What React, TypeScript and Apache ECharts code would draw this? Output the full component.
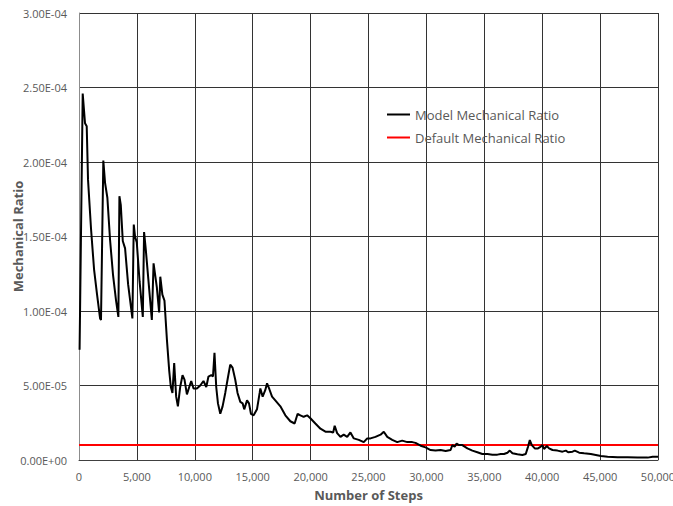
import React, { useEffect, useRef } from "react";
import * as echarts from "echarts";

// Number of steps (x) and model mechanical ratio (in units of 1e-5)
const steps = [
  50, 320, 520, 666, 780, 1040, 1300, 1560, 1820, 1900,
  2100, 2250, 2450, 2680, 2940, 3200, 3400, 3490, 3610, 3780,
  3980, 4240, 4610, 4730, 4840, 4990, 5230, 5510, 5620, 5770,
  5990, 6290, 6440, 6720, 6920, 7020, 7200, 7380, 7590, 7790,
  7930, 8070, 8220, 8390, 8540, 8740, 8940, 9110, 9320, 9520,
  9690, 9890, 10180, 10470, 10750, 10990, 11180, 11420, 11570, 11700,
  11850, 12000, 12200, 12400, 12630, 12830, 13060, 13260, 13490, 13690,
  13930, 14130, 14270, 14510, 14680, 14850, 15080, 15370, 15600, 15660,
  15860, 16090, 16240, 16440, 16670, 16950, 17390, 17820, 18250, 18620,
  18880, 19120, 19400, 19700, 19980, 20410, 20850, 21280, 21710, 21950,
  22080, 22290, 22580, 22860, 23160, 23440, 23730, 24160, 24590, 24890,
  25170, 25600, 26040, 26320, 26620, 27050, 27480, 27910, 28350, 28780,
  29060, 29500, 29930, 30360, 30790, 31230, 31660, 32090, 32240, 32440,
  32610, 32810, 33100, 33540, 33970, 34400, 34830, 35270, 35700, 36130,
  36420, 36700, 37000, 37200, 37430, 37860, 38290, 38580, 38780, 38930,
  39100, 39360, 39640, 39880, 40020, 40160, 40400, 40590, 40890, 41320,
  41750, 42040, 42240, 42620, 42820, 43190, 43620, 44200, 44630, 45070,
  45650, 46510, 47380, 48240, 49110, 49540, 50000,
];

const modelRatioE5 = [
  7.4, 24.6, 22.6, 22.4, 18.8, 15.5, 12.8, 11.1, 9.5, 9.4,
  20.1, 18.6, 17.6, 14.8, 12.4, 10.7, 9.6, 17.7, 17.1, 14.7,
  14.2, 11.8, 9.5, 15.8, 15.0, 14.6, 12.0, 9.6, 15.3, 14.1,
  12.1, 9.4, 13.2, 11.6, 9.9, 12.3, 11.1, 10.7, 8.1, 6.0,
  4.9, 4.5, 6.5, 4.25, 3.6, 4.9, 5.7, 5.4, 4.4, 4.9,
  5.3, 4.8, 4.8, 5.0, 5.3, 4.9, 5.6, 5.7, 5.6, 7.2,
  4.9, 3.8, 3.1, 3.6, 4.5, 5.4, 6.4, 6.2, 5.4, 4.5,
  3.9, 3.8, 3.4, 4.0, 3.8, 3.1, 3.0, 3.4, 4.5, 4.8,
  4.25, 4.7, 5.15, 4.75, 4.25, 4.0, 3.6, 3.0, 2.6, 2.45,
  3.1, 3.0, 2.9, 3.0, 2.8, 2.45, 2.1, 1.9, 1.9, 1.85,
  2.3, 1.8, 1.55, 1.7, 1.55, 1.85, 1.45, 1.35, 1.2, 1.45,
  1.45, 1.55, 1.7, 1.9, 1.55, 1.35, 1.2, 1.3, 1.2, 1.2,
  1.15, 0.96, 0.85, 0.67, 0.63, 0.67, 0.6, 0.67, 1.0, 0.9,
  1.1, 1.0, 1.0, 0.78, 0.63, 0.52, 0.4, 0.4, 0.36, 0.36,
  0.4, 0.4, 0.49, 0.63, 0.45, 0.38, 0.34, 0.4, 0.9, 1.34,
  1.0, 0.78, 0.78, 0.9, 1.0, 0.74, 0.94, 0.78, 0.67, 0.63,
  0.56, 0.63, 0.52, 0.56, 0.63, 0.49, 0.45, 0.4, 0.34, 0.27,
  0.22, 0.18, 0.18, 0.16, 0.16, 0.22, 0.22,
];

const defaultSteps = [0, 50000];
const defaultRatio = [1e-5, 1e-5];

const xTicks = { min: 0, max: 50000, interval: 5000 };
const yTicks = { min: 0, max: 3e-4, interval: 5e-5 };

const seriesNames = ["Model Mechanical Ratio", "Default Mechanical Ratio"];

function fmtExp(v: number): string {
  if (v === 0) return "0.00E+00";
  const [m, e] = v.toExponential(2).split("e");
  const n = parseInt(e, 10);
  return m + "E" + (n < 0 ? "-" : "+") + String(Math.abs(n)).padStart(2, "0");
}

export default function App() {
  const ref = useRef<HTMLDivElement>(null);
  useEffect(() => {
    if (!ref.current) return;
    const chart = echarts.init(ref.current, undefined, { renderer: "svg" });
    const font = "'Open Sans', sans-serif";
    const modelData = steps.map((s, i) => [s, modelRatioE5[i] * 1e-5]);
    const defaultData = defaultSteps.map((s, i) => [s, defaultRatio[i]]);
    chart.setOption({
      animation: false,
      backgroundColor: "#ffffff",
      grid: {
        left: 79,
        right: 15,
        top: 13,
        bottom: 46,
        containLabel: false,
        outerBoundsMode: "none",
      },
      legend: {
        orient: "vertical",
        left: 382,
        top: 103,
        icon: "rect",
        itemWidth: 23,
        itemHeight: 2,
        itemGap: 10,
        textStyle: { fontFamily: font, fontSize: 13, color: "#595959" },
        data: seriesNames,
      },
      xAxis: {
        type: "value",
        min: xTicks.min,
        max: xTicks.max,
        interval: xTicks.interval,
        name: "Number of Steps",
        nameLocation: "middle",
        nameGap: 28,
        nameTextStyle: { fontFamily: font, fontSize: 13, fontWeight: "bold", color: "#595959" },
        axisLine: { show: true, lineStyle: { color: "#404040", width: 1 } },
        axisTick: { show: false },
        axisLabel: {
          fontFamily: font,
          fontSize: 11,
          color: "#595959",
          margin: 11,
          formatter: (v: number) => v.toLocaleString("en-US"),
        },
        splitLine: { show: true, lineStyle: { color: "#333333", width: 1 } },
      },
      yAxis: {
        type: "value",
        min: yTicks.min,
        max: yTicks.max,
        interval: yTicks.interval,
        name: "Mechanical Ratio",
        nameLocation: "middle",
        nameGap: 55,
        nameMoveOverlap: false,
        nameRotate: 90,
        nameTextStyle: { fontFamily: font, fontSize: 13, fontWeight: "bold", color: "#595959" },
        axisLine: { show: true, lineStyle: { color: "#8c8c8c", width: 1 } },
        axisTick: { show: false },
        axisLabel: {
          fontFamily: font,
          fontSize: 11,
          color: "#595959",
          margin: 12,
          formatter: (v: number) => fmtExp(v),
        },
        splitLine: { show: true, lineStyle: { color: "#333333", width: 1 } },
      },
      series: [
        {
          name: seriesNames[0],
          type: "line",
          data: modelData,
          symbol: "none",
          lineStyle: { color: "#000000", width: 2 },
          itemStyle: { color: "#000000" },
          z: 3,
        },
        {
          name: seriesNames[1],
          type: "line",
          data: defaultData,
          symbol: "none",
          lineStyle: { color: "#ff0000", width: 2 },
          itemStyle: { color: "#ff0000" },
          z: 2,
        },
      ],
    });
    return () => chart.dispose();
  }, []);
  return (
    <div
      ref={ref}
      style={{ position: "fixed", left: 0, top: 0, width: 673, height: 506, background: "#fff" }}
    />
  );
}
